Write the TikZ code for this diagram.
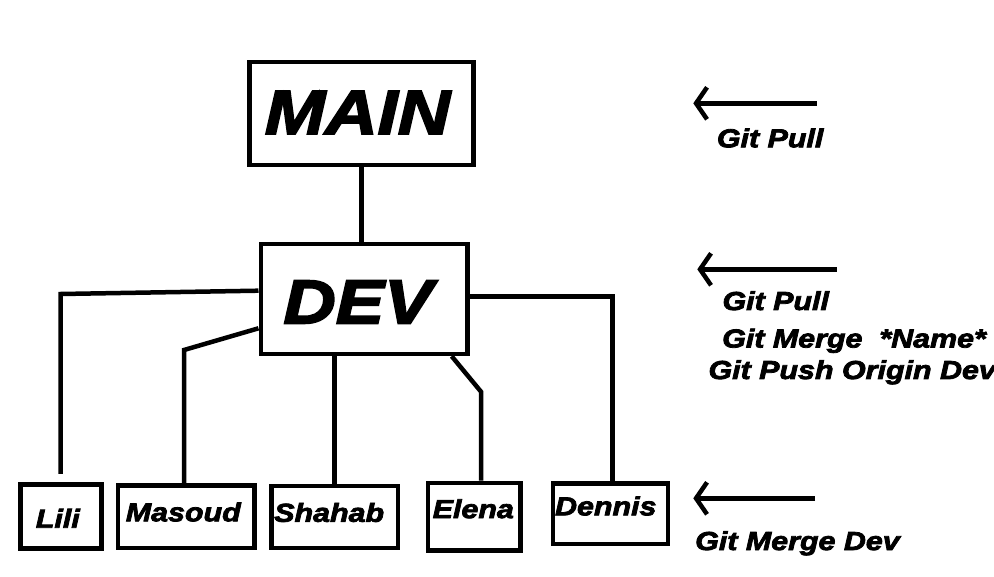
\documentclass[tikz,border=0pt]{standalone}
\usepackage{fontspec}
\setmainfont{Liberation Sans}[FakeStretch=1.17,FakeBold=3]
\usetikzlibrary{arrows.meta}
\newcommand{\personBox}[7]{%%
  \node[boxStyle,minimum width=#3,minimum height=#4,
    label={[nameStyle,xshift=#6,yshift=#7]center:#5}] (#1) at (#2) {};
}

\begin{document}
\begin{tikzpicture}[x=1pt,y=-1pt,%%
  boxStyle/.style={draw,line width=4.5pt,inner sep=0pt},%%
  lineStyle/.style={-,line width=4.5pt},%%
  arrowStyle/.style={-{Straight Barb[length=11pt,width=32pt]},line width=4.5pt},%%
  titleStyle/.style={font=\fontsize{62}{62}\selectfont\bfseries\itshape,inner sep=0pt},%%
  nameStyle/.style={font=\fontsize{26}{26}\selectfont\bfseries\itshape,inner sep=0pt},%%
  cmdStyle/.style={font=\fontsize{26}{26}\selectfont\bfseries\itshape,inner sep=0pt,anchor=base west}
]
\useasboundingbox (0,0) rectangle (994,577);
%%
%% The two branches.
\node[boxStyle,minimum width=224,minimum height=103,
  label={[titleStyle,xshift=-4pt,yshift=1pt]center:MAIN}] (main) at (361.5,113.5) {};
\node[boxStyle,minimum width=206.5,minimum height=110,
  label={[titleStyle,xshift=-6pt,yshift=-3pt]center:DEV}] (dev) at (364,299) {};
%%
%% The team.
\personBox{lili}{60.8,516.7}{81}{64}{Lili}{-3pt}{-1.6pt}
\personBox{masoud}{186.3,516.7}{136.7}{62.7}{Masoud}{-3pt}{4.7pt}
\personBox{shahab}{334.7,517}{126.7}{62}{Shahab}{-5.5pt}{4.5pt}
\personBox{elena}{474.3,516.8}{92.7}{67.7}{Elena}{-1pt}{8pt}
\personBox{dennis}{610.5,513.8}{115}{60.3}{Dennis}{-4.7pt}{7.8pt}
%%
%% Bends of the connectors.
\coordinate (liliBend) at (60.7,294);
\coordinate (masoudBend) at (184,350);
\coordinate (elenaBend) at (481,391.7);
\coordinate (dennisBend) at (612.7,296.7);
%%
%% MAIN to DEV.
\draw[lineStyle] (main.south) -- (main.south |- dev.north);
%%
%% DEV to everyone.
\draw[lineStyle] ([yshift=8.3pt]dev.west) -- (liliBend)
  -- ([yshift=8.7pt]lili.north -| liliBend);
\draw[lineStyle] ([yshift=-29.3pt]dev.west) -- (masoudBend)
  -- (masoud.north -| masoudBend);
\draw[lineStyle] (dev.south -| shahab.north) -- (shahab.north);
\draw[lineStyle] ([xshift=87.7pt]dev.south) -- (elenaBend)
  -- (elena.north -| elenaBend);
\draw[lineStyle] ([yshift=2.3pt]dev.east) -- (dennisBend)
  -- (dennis.north -| dennisBend);
%%
%% The arrows on the right.
\coordinate (mainTail) at (816.7,103.3);
\coordinate (mainTip) at (693.3,103.3);
\coordinate (devTail) at (836.7,269.3);
\coordinate (devTip) at (697.3,269.3);
\coordinate (teamTail) at (815,498.3);
\coordinate (teamTip) at (693.3,498.3);
\draw[arrowStyle] (mainTail) -- (mainTip);
\draw[arrowStyle] (devTail) -- (devTip);
\draw[arrowStyle] (teamTail) -- (teamTip);
%%
%% The commands.
\node[cmdStyle] (mainPull) at (716.7,147.3) {Git Pull};
\node[cmdStyle] (devPull) at (722.3,310) {Git Pull};
\node[cmdStyle] (devMerge) at (722,347.5) {Git Merge\ \ *Name*};
\node[cmdStyle] (devPush) at (708.3,379) {Git Push Origin Dev};
\node[cmdStyle] (teamMerge) at (695,550) {Git Merge Dev};
\end{tikzpicture}
\end{document}
